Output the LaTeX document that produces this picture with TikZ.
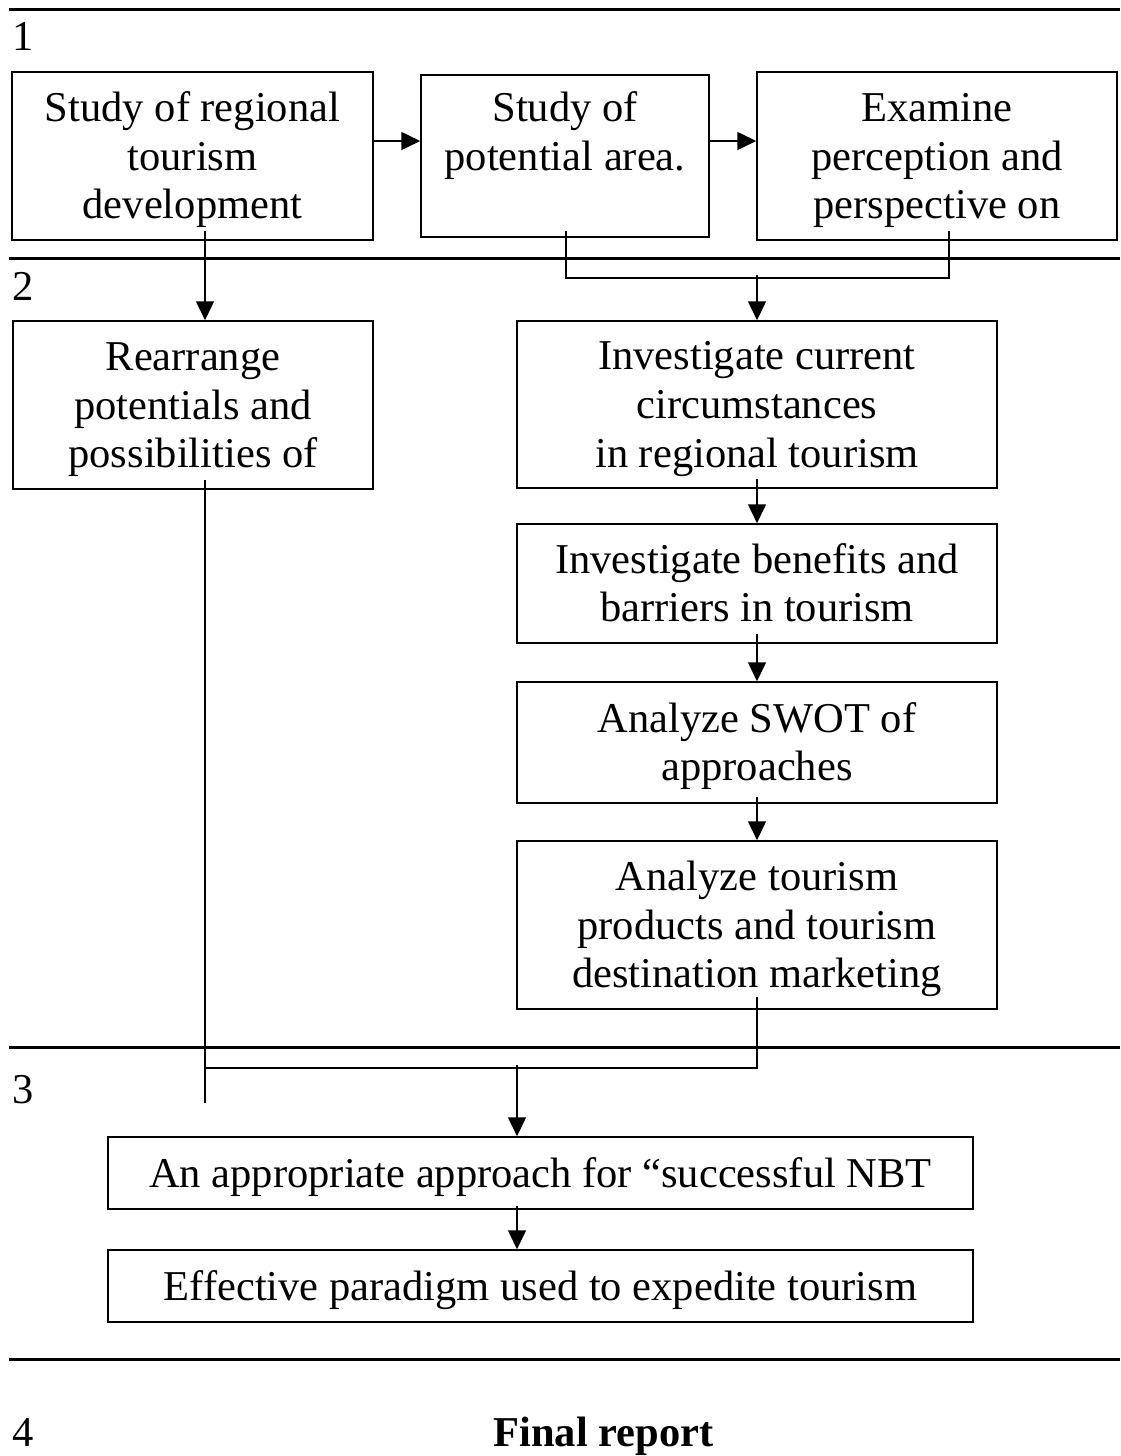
\documentclass[tikz,border=0pt]{standalone}
\usepackage{fontspec}
\setmainfont{Liberation Serif}
\usetikzlibrary{arrows.meta}
\newcommand\Ls{\rule[-10.4pt]{0pt}{48.8pt}}
\begin{document}
\begin{tikzpicture}[x=1pt,y=-1pt,
  box/.style={draw, line width=1.5pt, inner sep=0pt, align=center,
    font=\fontsize{42.5}{48.8}\selectfont},
  conn/.style={line width=1.5pt},
  arr/.style={conn, -{Triangle[length=19pt,width=18pt]}},
  rulel/.style={line width=3pt},
  lbl/.style={anchor=base west, inner sep=0pt, font=\fontsize{42.5}{48.8}\selectfont}]
\useasboundingbox (0,0) rectangle (1120,1456);
\fill[white] (0,0) rectangle (1120,1456);

% horizontal rules
\draw[rulel] (9,9) -- (1120,9);
\draw[rulel] (9,258) -- (1120,258);
\draw[rulel] (9,1047) -- (1120,1047);
\draw[rulel] (9,1359) -- (1120,1359);

% stage labels
\node[lbl] (n1) at (12,50) {1};
\node[lbl] (n2) at (12,300) {2};
\node[lbl] (n3) at (12,1103) {3};
\node[lbl] (n4) at (12,1446) {4};
\node[anchor=base, inner sep=0pt, font=\fontsize{42.5}{48.8}\selectfont\bfseries] (fin) at (603.5,1446) {Final report};

% boxes
\node[box, minimum width=361pt, minimum height=168pt] (A) at (192.5,156)
  {\Ls Study of regional\\\Ls tourism\\\Ls development};
\node[box, minimum width=288pt, minimum height=162pt] (B) at (565,156)
  {\Ls Study of\\\Ls potential area.\\\Ls};
\node[box, minimum width=360pt, minimum height=168pt] (C) at (937,156)
  {\Ls Examine\\\Ls perception and\\\Ls perspective on};
\node[box, minimum width=360pt, minimum height=168pt] (D) at (193,405)
  {\Ls Rearrange\\\Ls potentials and\\\Ls possibilities of};
\node[box, minimum width=480pt, minimum height=167pt] (E) at (757,404.5)
  {\Ls Investigate current\\\Ls circumstances\\\Ls in regional tourism};
\node[box, minimum width=480pt, minimum height=119pt] (F) at (757,583.5)
  {\Ls Investigate benefits and\\\Ls barriers in tourism};
\node[box, minimum width=480pt, minimum height=121pt] (G) at (757,742.5)
  {\Ls Analyze SWOT of\\\Ls approaches};
\node[box, minimum width=480pt, minimum height=168pt] (H) at (757,925)
  {\Ls Analyze tourism\\\Ls products and tourism\\\Ls destination marketing};
\node[box, minimum width=865pt, minimum height=72pt] (I) at (540.5,1173)
  {\Ls An appropriate approach for “successful NBT};
\node[box, minimum width=865pt, minimum height=72pt] (J) at (540.5,1286)
  {\Ls Effective paradigm used to expedite tourism};

% junction coordinates
\coordinate (b1) at (566,278);
\coordinate (b2) at (949,278);
\coordinate (bm) at (757,275);
\coordinate (h2) at (757,1068);
\coordinate (h1) at (205,1068);
\coordinate (dend) at (205,1103);
\coordinate (i0) at (517,1065);

% connectors
\draw[arr] ([yshift=15pt]A.east) -- ([yshift=15pt]B.west);
\draw[arr] ([yshift=15pt]B.east) -- ([yshift=15pt]C.west);
\draw[arr] ([xshift=12.5pt,yshift=10pt]A.south) -- ([xshift=12pt]D.north);
\draw[conn] ([xshift=1pt,yshift=7pt]B.south) -- (b1) -- (b2) -- ([xshift=12pt,yshift=10pt]C.south);
\draw[arr] (bm) -- (E.north);
\draw[arr] ([yshift=9.5pt]E.south) -- (F.north);
\draw[arr] ([yshift=10pt]F.south) -- (G.north);
\draw[arr] ([yshift=7pt]G.south) -- (H.north);
\draw[conn] ([yshift=13pt]H.south) -- (h2) -- (h1);
\draw[conn] ([xshift=12pt,yshift=10pt]D.south) -- (dend);
\draw[arr] (i0) -- ([xshift=-23.5pt]I.north);
\draw[arr] ([xshift=-23.5pt,yshift=4pt]I.south) -- ([xshift=-23.5pt]J.north);
\end{tikzpicture}
\end{document}
